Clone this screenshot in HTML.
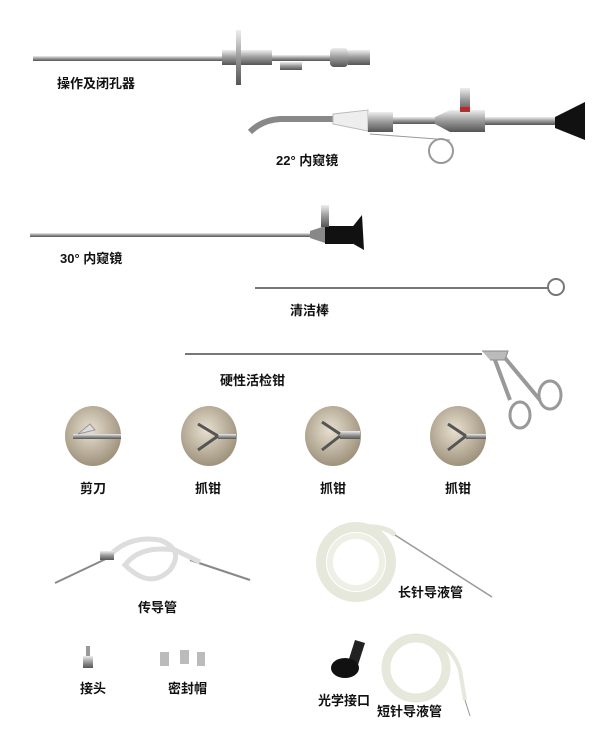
<!DOCTYPE html>
<html><head><meta charset="utf-8"><style>
html,body{margin:0;padding:0;background:#fff;}
svg{display:block;}
text{font-family:"Liberation Sans","Noto Sans CJK SC",sans-serif;font-size:13px;fill:#111;font-weight:bold;}
</style></head><body>
<svg width="600" height="747" viewBox="0 0 600 747" xmlns="http://www.w3.org/2000/svg">
<defs>
<linearGradient id="m" x1="0" y1="0" x2="0" y2="1"><stop offset="0" stop-color="#eee"/><stop offset="0.5" stop-color="#999"/><stop offset="1" stop-color="#555"/></linearGradient>
<radialGradient id="bg" cx="0.45" cy="0.4" r="0.6"><stop offset="0" stop-color="#e8e0d0"/><stop offset="1" stop-color="#9e927c"/></radialGradient>
</defs>
<!-- operating sheath -->
<rect x="33" y="56" width="190" height="5" fill="url(#m)"/>
<rect x="222" y="50" width="50" height="15" fill="url(#m)"/>
<rect x="236" y="30" width="5" height="55" fill="url(#m)"/>
<rect x="272" y="55" width="58" height="6" fill="url(#m)"/>
<rect x="330" y="48" width="18" height="19" rx="4" fill="url(#m)"/>
<rect x="348" y="50" width="22" height="15" fill="url(#m)"/>
<rect x="280" y="62" width="22" height="8" fill="url(#m)"/>
<text x="57" y="88">操作及闭孔器</text>
<!-- 22 scope -->
<path d="M250 132 Q262 120 280 119 L333 119" stroke="#888" stroke-width="6" fill="none"/>
<path d="M333 114 L368 110 L368 131 L333 124Z" fill="#eee" stroke="#bbb"/>
<rect x="368" y="112" width="25" height="20" fill="url(#m)"/>
<rect x="393" y="117" width="42" height="7" fill="url(#m)"/>
<path d="M435 117 L450 110 L485 110 L485 132 L450 132 L435 124Z" fill="url(#m)"/>
<rect x="460" y="88" width="10" height="24" fill="url(#m)"/>
<rect x="460" y="107" width="10" height="4" fill="#c22"/>
<rect x="485" y="117" width="70" height="8" fill="url(#m)"/>
<path d="M555 117 L585 102 L585 140 L555 128Z" fill="#111"/>
<circle cx="441" cy="151" r="12" fill="none" stroke="#999" stroke-width="2"/>
<line x1="370" y1="134" x2="450" y2="140" stroke="#999"/>
<text x="276" y="165">22°  内窥镜</text>
<!-- 30 scope -->
<rect x="30" y="233" width="290" height="4" fill="url(#m)"/>
<path d="M310 231 L325 226 L325 243 L310 238Z" fill="#888"/>
<rect x="325" y="226" width="28" height="18" fill="#111"/>
<path d="M350 230 L362 215 L364 250 L350 242Z" fill="#111"/>
<rect x="321" y="205" width="8" height="22" fill="url(#m)"/>
<text x="60" y="263">30°  内窥镜</text>
<!-- cleaning rod -->
<line x1="255" y1="288" x2="548" y2="288" stroke="#777" stroke-width="2"/>
<circle cx="556" cy="287" r="8" fill="none" stroke="#777" stroke-width="2"/>
<text x="290" y="315">清洁棒</text>
<!-- forceps -->
<line x1="185" y1="354" x2="482" y2="354" stroke="#777" stroke-width="2"/>
<path d="M482 351 L508 351 L505 360 L490 360" fill="#bbb" stroke="#888"/>
<path d="M495 360 L510 400" stroke="#999" stroke-width="4"/>
<path d="M505 358 L540 400" stroke="#999" stroke-width="4"/>
<ellipse cx="520" cy="415" rx="10" ry="13" fill="none" stroke="#999" stroke-width="3"/>
<ellipse cx="550" cy="395" rx="11" ry="14" fill="none" stroke="#999" stroke-width="3"/>
<text x="220" y="385">硬性活检钳</text>
<!-- circles -->
<g>
<ellipse cx="93" cy="436" rx="28" ry="30" fill="url(#bg)"/>
<rect x="73" y="434" width="48" height="5" fill="url(#m)"/><path d="M78 434 L90 424 L95 430Z" fill="#ddd" stroke="#999"/>
<ellipse cx="209" cy="436" rx="28" ry="30" fill="url(#bg)"/>
<rect x="218" y="434" width="18" height="5" fill="url(#m)"/><path d="M218 436 L198 424 M218 436 L198 450" stroke="#555" stroke-width="3" fill="none"/>
<ellipse cx="333" cy="436" rx="28" ry="30" fill="url(#bg)"/>
<rect x="340" y="431" width="20" height="8" fill="url(#m)"/><path d="M340 434 L322 422 M340 436 L322 450" stroke="#555" stroke-width="3" fill="none"/>
<ellipse cx="458" cy="436" rx="28" ry="30" fill="url(#bg)"/>
<rect x="466" y="434" width="20" height="5" fill="url(#m)"/><path d="M466 436 L448 424 M466 436 L448 450" stroke="#555" stroke-width="3" fill="none"/>
</g>
<text x="80" y="493">剪刀</text><text x="195" y="493">抓钳</text><text x="320" y="493">抓钳</text><text x="445" y="493">抓钳</text>
<!-- transfer tube -->
<line x1="55" y1="583" x2="110" y2="557" stroke="#888" stroke-width="2"/>
<line x1="190" y1="560" x2="250" y2="580" stroke="#888" stroke-width="2"/>
<path d="M110 555 Q130 535 160 540 Q185 550 170 570 Q150 590 125 565 Q140 545 175 550 L200 562" stroke="#ddd" stroke-width="5" fill="none"/>
<rect x="100" y="551" width="14" height="9" fill="url(#m)"/>
<text x="138" y="612">传导管</text>
<!-- long needle tube -->
<circle cx="356" cy="562" r="35" fill="none" stroke="#e6e8dc" stroke-width="10"/>
<circle cx="356" cy="562" r="26" fill="none" stroke="#eef0e6" stroke-width="6"/>
<path d="M360 527 Q385 525 395 535" stroke="#e6e8dc" stroke-width="5" fill="none"/>
<line x1="395" y1="535" x2="492" y2="597" stroke="#999" stroke-width="1.5"/>
<text x="398" y="597">长针导液管</text>
<!-- connector & caps -->
<rect x="86" y="646" width="4" height="10" fill="#999"/><rect x="83" y="656" width="10" height="12" fill="url(#m)"/>
<rect x="160" y="652" width="9" height="14" fill="#bbb"/><rect x="180" y="650" width="9" height="14" fill="#bbb"/><rect x="197" y="652" width="8" height="14" fill="#bbb"/>
<text x="80" y="693">接头</text><text x="168" y="693">密封帽</text>
<!-- optical connector -->
<path d="M355 640 L365 643 L358 665 L348 662Z" fill="#222"/>
<ellipse cx="345" cy="668" rx="14" ry="10" fill="#111"/>
<text x="318" y="705">光学接口</text>
<!-- short needle tube -->
<circle cx="416" cy="668" r="30" fill="none" stroke="#e6e8dc" stroke-width="9"/>
<path d="M420 638 Q450 640 460 670 L465 700" stroke="#e6e8dc" stroke-width="4" fill="none"/>
<line x1="465" y1="700" x2="470" y2="716" stroke="#999"/>
<text x="377" y="716">短针导液管</text>
</svg>
</body></html>
